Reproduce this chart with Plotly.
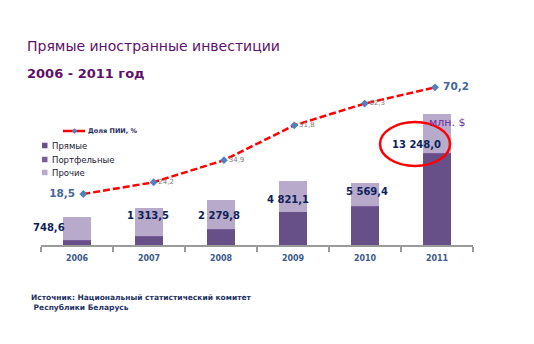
import plotly.graph_objects as go

# Foreign investment in Belarus, mln USD, split by type
years = ["2006", "2007", "2008", "2009", "2010", "2011"]
direct = [748.6, 1313.5, 2279.8, 4821.1, 5569.4, 13248.0]
portfolio = [5, 7, 25, 25, 24, 36]
other = [3290, 4110, 4230, 4460, 3350, 5590]
# Share of FDI in total foreign investment, %
fdi_share = [18.5, 24.2, 34.9, 51.8, 62.3, 70.2]

series_names = ["Прямые", "Портфельные", "Прочие"]
share_name = "Доля ПИИ, %"

W, H = 534, 344
FONT = "DejaVu Sans"
BAR_COLORS = ["#674F88", "#7A5C9C", "#B7AACB"]
NAVY = "#0F1F5A"


def fx(p):
    return p / W


def fy(p):
    return 1 - p / H


def money(v):
    return f"{v:,.1f}".replace(",", " ").replace(".", ",")


def pct(v):
    return f"{v:.1f}".replace(".", ",")


fig = go.Figure()

for name, vals, col in zip(series_names, [direct, portfolio, other], BAR_COLORS):
    fig.add_trace(go.Bar(
        x=years, y=vals, name=name, marker=dict(color=col, line=dict(width=0)),
        showlegend=False, hoverinfo="skip",
    ))

n = len(fdi_share)
fig.add_trace(go.Scatter(
    x=list(range(n)), y=fdi_share, xaxis="x2", yaxis="y2", name=share_name,
    mode="lines+markers+text",
    line=dict(color="#FF0000", width=2.5, dash="7px,3px"),
    marker=dict(symbol="diamond", size=6, color="#4F81BD"),
    text=[(" <b>" + pct(v) + "</b> ") if i in (0, n - 1) else pct(v) for i, v in enumerate(fdi_share)],
    textposition=["middle left"] + ["middle right"] * (n - 1),
    textfont=dict(
        family=FONT,
        size=[10.5] + [7] * (n - 2) + [10.5],
        color=["#46679A"] + ["#7A7A7A"] * (n - 2) + ["#46679A"],
    ),
    showlegend=False, hoverinfo="skip", cliponaxis=False,
))

# Value labels for direct investment next to each bar
label_pos = [(49, 228), (148, 215), (219, 215.5), (288, 199), (367, 191), (416, 144)]
for v, (lx, ly) in zip(direct, label_pos):
    fig.add_annotation(
        x=fx(lx), y=fy(ly), xref="paper", yref="paper", text=f"<b>{money(v)}</b>",
        showarrow=False, xanchor="center", yanchor="middle",
        font=dict(family=FONT, size=10, color=NAVY),
    )

# Highlight around the 2011 value
fig.add_shape(type="circle", xref="paper", yref="paper",
              x0=fx(380), x1=fx(450), y0=fy(166), y1=fy(122),
              line=dict(color="#FF0000", width=2.5))

fig.add_annotation(x=fx(427), y=fy(123), xref="paper", yref="paper", text="млн. $",
                   showarrow=False, xanchor="left", yanchor="middle",
                   font=dict(family=FONT, size=11, color="#7030A0"))

# Titles
fig.add_annotation(x=fx(25), y=fy(46), xref="paper", yref="paper",
                   text="Прямые иностранные инвестиции", showarrow=False,
                   xanchor="left", yanchor="middle",
                   font=dict(family=FONT, size=14, color="#5E0F6A"))
fig.add_annotation(x=fx(25), y=fy(74), xref="paper", yref="paper",
                   text="<b>2006 - 2011 год</b>", showarrow=False,
                   xanchor="left", yanchor="middle",
                   font=dict(family=FONT, size=13, color="#5E0F6A"))

# Source note
fig.add_annotation(x=fx(29), y=fy(302), xref="paper", yref="paper",
                   text="<b>Источник: Национальный статистический комитет<br> Республики Беларусь</b>",
                   showarrow=False, xanchor="left", yanchor="middle", align="left",
                   font=dict(family=FONT, size=7.5, color="#1F3264"))

# Legend: line key
ly = 131
fig.add_shape(type="line", xref="paper", yref="paper", x0=fx(63), x1=fx(85), y0=fy(ly), y1=fy(ly),
              line=dict(color="#FF0000", width=2.5))
cx, d = 74.5, 2.8
fig.add_shape(type="path", xref="paper", yref="paper",
              path=f"M {fx(cx - d)},{fy(ly)} L {fx(cx)},{fy(ly - d)} L {fx(cx + d)},{fy(ly)} L {fx(cx)},{fy(ly + d)} Z",
              fillcolor="#4F81BD", line=dict(width=0))
fig.add_annotation(x=fx(86), y=fy(ly), xref="paper", yref="paper", text=f"<b>{share_name}</b>",
                   showarrow=False, xanchor="left", yanchor="middle",
                   font=dict(family=FONT, size=6.5, color="#1F2D5C"))

# Legend: bar keys
for name, col, ky in zip(series_names, BAR_COLORS, [145.5, 159.5, 172.5]):
    fig.add_shape(type="rect", xref="paper", yref="paper",
                  x0=fx(42), x1=fx(47.5), y0=fy(ky + 2.75), y1=fy(ky - 2.75),
                  fillcolor=col, line=dict(width=0))
    fig.add_annotation(x=fx(50), y=fy(ky), xref="paper", yref="paper", text=name,
                       showarrow=False, xanchor="left", yanchor="middle",
                       font=dict(family=FONT, size=8.5, color="#1A1A33"))

base, top = 245.3, 60
fig.update_layout(
    width=W, height=H, margin=dict(l=0, r=0, t=0, b=0),
    paper_bgcolor="white", plot_bgcolor="rgba(0,0,0,0)",
    barmode="stack", bargap=0.6, showlegend=False,
    xaxis=dict(
        domain=[fx(41), fx(473)], type="category", range=[-0.5, 5.5],
        showline=True, linecolor="#9A9A9A", linewidth=2,
        ticks="outside", tickson="boundaries", ticklen=5, tickwidth=1.5, tickcolor="#9A9A9A",
        tickfont=dict(family=FONT, size=8, color="#3D5A8A", weight="bold"),
        showgrid=False, zeroline=False, ticklabelstandoff=4, anchor="y",
    ),
    yaxis=dict(domain=[fy(base), fy(top)], range=[0, (base - top) * 144],
               visible=False, anchor="x"),
    xaxis2=dict(domain=[fx(48.1), fx(470.2)], range=[-0.5, 5.5], visible=False, anchor="y2"),
    yaxis2=dict(domain=[fy(base), fy(top)], range=[(232.2 - base) / 2.064, (232.2 - top) / 2.064],
                visible=False, anchor="x2"),
)

fig.write_html("out.html")
